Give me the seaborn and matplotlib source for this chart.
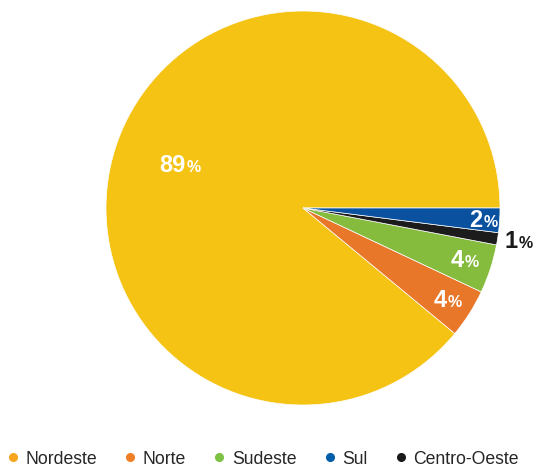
import matplotlib
matplotlib.use("Agg")
import matplotlib.pyplot as plt
from matplotlib.lines import Line2D
import seaborn as sns

# Share of each region
regions = ["Nordeste", "Norte", "Sudeste", "Centro-Oeste", "Sul"]
shares = [89, 4, 4, 1, 2]
pie_colors = ["#F5C314", "#E8772A", "#86BC3E", "#1C1C1C", "#0A52A0"]

# Legend order and dot colours
legend_labels = ["Nordeste", "Norte", "Sudeste", "Sul", "Centro-Oeste"]
legend_colors = ["#F7A51D", "#F07E26", "#7DC242", "#005DAA", "#1A1A1A"]

sns.set_theme(style="white")
plt.rcParams["font.family"] = ["Liberation Sans", "DejaVu Sans"]

fig = plt.figure(figsize=(5.37, 4.66), dpi=100)
ax = fig.add_axes([106 / 537, 61 / 466, 394 / 537, 394 / 466])

wedges, _ = ax.pie(
    shares,
    colors=pie_colors,
    startangle=0,
    counterclock=True,
    radius=1.0,
    wedgeprops=dict(edgecolor="white", linewidth=0.5),
)
ax.set_xlim(-1, 1)
ax.set_ylim(-1, 1)
ax.set_aspect("equal")
ax.axis("off")

# Percentage labels: anchor (x, baseline y) in data units, text colour
label_pos = {
    "Nordeste": (-0.594, 0.183, "white"),
    "Norte": (0.731, -0.505, "white"),
    "Sudeste": (0.815, -0.30, "white"),
    "Centro-Oeste": (1.089, -0.203, "#1A1A1A"),
    "Sul": (0.911, -0.096, "white"),
}
for region, value in zip(regions, shares):
    x, y, c = label_pos[region]
    ax.text(x, y, f"{value}", ha="right", va="baseline", color=c,
            fontsize=17, fontweight="bold")
    ax.text(x + 0.004, y, "%", ha="left", va="baseline", color=c,
            fontsize=11.5, fontweight="bold")

handles = [
    Line2D([0], [0], marker="o", linestyle="none", markersize=5.5,
           markerfacecolor=col, markeredgecolor=col)
    for col in legend_colors
]
fig.legend(
    handles, legend_labels,
    loc="center", bbox_to_anchor=(0.49, 0.015),
    ncol=5, frameon=False, fontsize=12.7,
    handlelength=0.6, handletextpad=0.4, columnspacing=1.6,
    borderpad=0, borderaxespad=0,
)

fig.savefig("out.png", dpi=100)
